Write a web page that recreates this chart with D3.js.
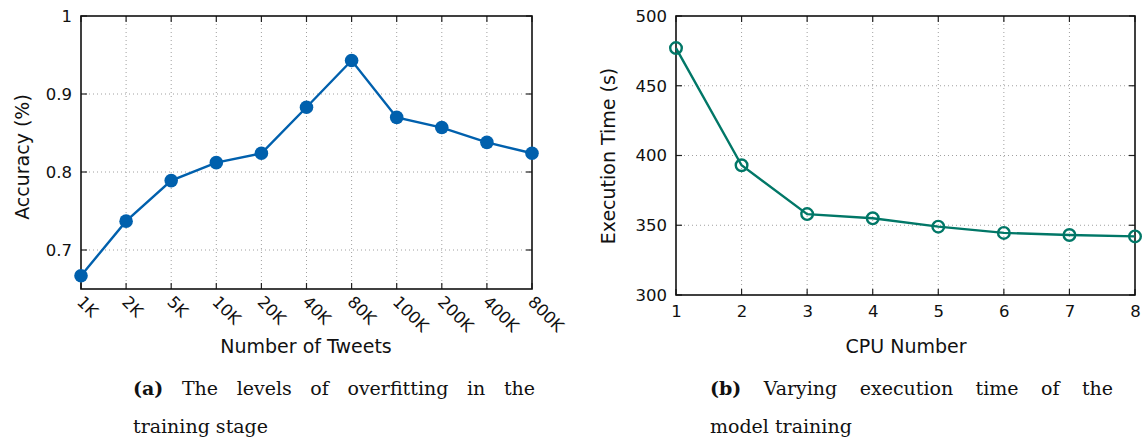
<!DOCTYPE html>
<html>
<head>
<meta charset="utf-8">
<script src="https://cdn.jsdelivr.net/npm/d3@7"></script>
<style>
  body { margin: 0; background: #fff; }
  svg { display: block; }
</style>
</head>
<body>
<svg id="chart" width="1145" height="441"></svg>
<script>
// data, panel (a)
const tweetLabels = ['1K', '2K', '5K', '10K', '20K', '40K', '80K', '100K', '200K', '400K', '800K'];
const accuracy = [0.667, 0.737, 0.789, 0.812, 0.824, 0.883, 0.943, 0.870, 0.857, 0.838, 0.824];
const accTicks = [0.7, 0.8, 0.9, 1];

// data, panel (b)
const cpus = [1, 2, 3, 4, 5, 6, 7, 8];
const execTime = [477, 393, 358, 355, 349, 344.5, 343, 342];
const timeTicks = [300, 350, 400, 450, 500];

const svg = d3.select('#chart');
const sansFont = '"DejaVu Sans", Verdana, sans-serif';
const serifFont = '"DejaVu Serif", "Liberation Serif", serif';
const tickSize = 16.5;

// ---- panel (a)
const a = { left: 81, right: 532, top: 16, bottom: 289 };
const xA = d3.scalePoint().domain(tweetLabels).range([a.left, a.right]);
const yA = d3.scaleLinear().domain([0.65, 1]).range([a.bottom, a.top]);

// ---- panel (b)
const b = { left: 676, right: 1135, top: 16, bottom: 295 };
const xB = d3.scaleLinear().domain([1, 8]).range([b.left, b.right]);
const yB = d3.scaleLinear().domain([300, 500]).range([b.bottom, b.top]);

function frame(box, xs, xvals, ys, yvals) {
  const g = svg.append('g');
  // grid
  g.selectAll('.gx').data(xvals.slice(1, -1)).enter().append('line')
    .attr('x1', d => xs(d)).attr('x2', d => xs(d))
    .attr('y1', box.top).attr('y2', box.bottom)
    .attr('stroke', '#a0a0a0').attr('stroke-width', 1)
    .attr('stroke-dasharray', '1,3');
  g.selectAll('.gy').data(yvals.filter(v => ys(v) > box.top + 1 && ys(v) < box.bottom - 1)).enter().append('line')
    .attr('x1', box.left).attr('x2', box.right)
    .attr('y1', d => ys(d)).attr('y2', d => ys(d))
    .attr('stroke', '#a0a0a0').attr('stroke-width', 1)
    .attr('stroke-dasharray', '1,3');
  // inward ticks, mirrored
  const tl = 6;
  xvals.forEach(v => {
    g.append('line').attr('x1', xs(v)).attr('x2', xs(v)).attr('y1', box.bottom).attr('y2', box.bottom - tl)
      .attr('stroke', '#222').attr('stroke-width', 1.2);
    g.append('line').attr('x1', xs(v)).attr('x2', xs(v)).attr('y1', box.top).attr('y2', box.top + tl)
      .attr('stroke', '#222').attr('stroke-width', 1.2);
  });
  yvals.forEach(v => {
    g.append('line').attr('x1', box.left).attr('x2', box.left + tl).attr('y1', ys(v)).attr('y2', ys(v))
      .attr('stroke', '#222').attr('stroke-width', 1.2);
    g.append('line').attr('x1', box.right).attr('x2', box.right - tl).attr('y1', ys(v)).attr('y2', ys(v))
      .attr('stroke', '#222').attr('stroke-width', 1.2);
  });
  // border
  g.append('rect')
    .attr('x', box.left).attr('y', box.top)
    .attr('width', box.right - box.left).attr('height', box.bottom - box.top)
    .attr('fill', 'none').attr('stroke', '#111').attr('stroke-width', 1.6);
  return g;
}

frame(a, xA, tweetLabels, yA, accTicks);
frame(b, xB, cpus, yB, timeTicks);

// y axis labels via d3 axis (no lines)
function yLabels(box, ys, vals, fmt) {
  const ax = svg.append('g')
    .attr('transform', 'translate(' + box.left + ',0)')
    .call(d3.axisLeft(ys).tickValues(vals).tickFormat(fmt).tickSize(0).tickPadding(9));
  ax.select('.domain').remove();
  ax.selectAll('text').attr('font-size', tickSize).attr('fill', '#111').style('font-family', sansFont);
}
yLabels(a, yA, accTicks, d => d === 1 ? '1' : d3.format('.1f')(d));
yLabels(b, yB, timeTicks, d3.format('d'));

// x labels panel (a), rotated
svg.append('g').selectAll('text').data(tweetLabels).enter().append('text')
  .attr('transform', d => 'translate(' + (xA(d) - 5) + ',' + (a.bottom + 14) + ') rotate(45)')
  .attr('font-size', tickSize).attr('fill', '#111')
  .style('font-family', sansFont)
  .text(d => d);

// x labels panel (b)
const axb = svg.append('g')
  .attr('transform', 'translate(0,' + b.bottom + ')')
  .call(d3.axisBottom(xB).tickValues(cpus).tickFormat(d3.format('d')).tickSize(0).tickPadding(10));
axb.select('.domain').remove();
axb.selectAll('text').attr('font-size', tickSize).attr('fill', '#111').style('font-family', sansFont);

// axis titles
function title(x, y, txt, rot) {
  svg.append('text')
    .attr('transform', 'translate(' + x + ',' + y + ')' + (rot ? ' rotate(-90)' : ''))
    .attr('text-anchor', 'middle')
    .attr('font-size', 19).attr('fill', '#111')
    .style('font-family', sansFont)
    .text(txt);
}
title(306, 353, 'Number of Tweets');
title(29, 157, 'Accuracy (%)', true);
title(906, 353, 'CPU Number');
title(615, 156, 'Execution Time (s)', true);

// series (a)
const blue = '#0060ad';
svg.append('path')
  .datum(accuracy)
  .attr('d', d3.line().x((d, i) => xA(tweetLabels[i])).y(d => yA(d)))
  .attr('fill', 'none').attr('stroke', blue).attr('stroke-width', 2.4);
svg.append('g').selectAll('circle').data(accuracy).enter().append('circle')
  .attr('cx', (d, i) => xA(tweetLabels[i]))
  .attr('cy', d => yA(d))
  .attr('r', 6.8)
  .attr('fill', blue);

// series (b)
const teal = '#017767';
svg.append('path')
  .datum(execTime)
  .attr('d', d3.line().x((d, i) => xB(cpus[i])).y(d => yB(d)))
  .attr('fill', 'none').attr('stroke', teal).attr('stroke-width', 2.4);
svg.append('g').selectAll('circle').data(execTime).enter().append('circle')
  .attr('cx', (d, i) => xB(cpus[i]))
  .attr('cy', d => yB(d))
  .attr('r', 5.8)
  .attr('fill', 'none')
  .attr('stroke', teal)
  .attr('stroke-width', 2.4);

// captions, first line justified
function caption(x0, x1, y, tag, words, rest) {
  const fs = 19;
  const items = [{ t: tag, bold: true }].concat(words.map(w => ({ t: w, bold: false })));
  const nodes = items.map(it => svg.append('text')
    .attr('y', y)
    .attr('font-size', fs)
    .attr('font-weight', it.bold ? 'bold' : 'normal')
    .attr('fill', '#111')
    .style('font-family', serifFont)
    .text(it.t));
  const widths = nodes.map(n => n.node().getComputedTextLength());
  const gap = (x1 - x0 - d3.sum(widths)) / (nodes.length - 1);
  let x = x0;
  nodes.forEach((n, i) => { n.attr('x', x); x += widths[i] + gap; });
  svg.append('text')
    .attr('x', x0).attr('y', y + 38)
    .attr('font-size', fs).attr('fill', '#111')
    .style('font-family', serifFont)
    .text(rest);
}
caption(133, 535, 395, '(a)', ['The', 'levels', 'of', 'overfitting', 'in', 'the'], 'training stage');
caption(710, 1113, 395, '(b)', ['Varying', 'execution', 'time', 'of', 'the'], 'model training');
</script>
</body>
</html>
